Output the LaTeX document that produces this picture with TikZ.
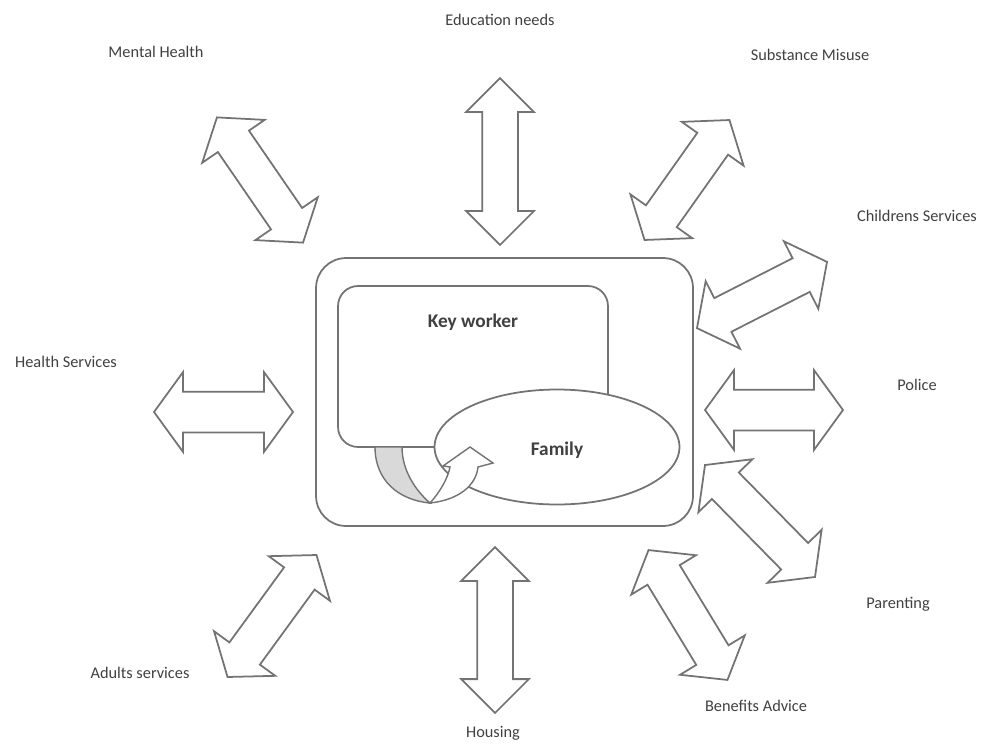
\documentclass[tikz,border=0pt]{standalone}
\usepackage{fontspec}
\setmainfont{Carlito}
\usetikzlibrary{shapes.arrows,shapes.geometric}

\definecolor{linegray}{gray}{0.45}
\definecolor{textgray}{gray}{0.25}

\tikzset{
  link/.style={double arrow, draw=linegray, fill=white, line width=1pt,
    inner xsep=0pt, inner ysep=0.36cm, double arrow head extend=0.38cm,
    double arrow tip angle=105},
  flat/.style={link, inner ysep=0.39cm, double arrow head extend=0.39cm,
    double arrow tip angle=108},
  upright/.style={link, inner ysep=0.34cm, double arrow head extend=0.32cm,
    double arrow tip angle=90},
  service/.style={text=textgray, font=\fontsize{9.3}{11}\selectfont},
  box/.style={draw=linegray, line width=1pt, fill=white, inner sep=0pt},
  inside/.style={text=textgray, font=\fontsize{11}{13}\selectfont\bfseries}
}

\begin{document}
\begin{tikzpicture}[x=0.02cm, y=-0.02cm]
        \useasboundingbox (0,0) rectangle (990,744);

        % Centre boxes
        \node (team) [box, rounded corners=0.6cm, minimum width=7.54cm, minimum height=5.36cm] at (504.5,392) {};
        \node (keyworker) [box, rounded corners=0.4cm, minimum width=5.4cm, minimum height=3.22cm] at (473,366.5) {};
        \node (keytext) [inside] at (473,322) {Key worker};
        \node (family) [box, ellipse, minimum width=4.9cm, minimum height=2.3cm] at (557,447) {};
        \node (familytext) [inside] at (557,450) {Family};

        % Curved arrow from key worker to family
        \draw[draw=linegray, line width=0.8pt, fill=gray!30]
          (375,447) .. controls (375,480) and (398,500) .. (430,503)
          .. controls (415,490) and (402,470) .. (402,447) -- cycle;
        \draw[draw=linegray, line width=0.8pt, fill=white]
          (430,503) .. controls (440,492) and (448,478) .. (450,467)
          -- (443,466) -- (470,447) -- (493,463) -- (478,467)
          .. controls (476,486) and (458,500) .. (430,503) -- cycle;

        % Double arrows
        \node (mental) [link, rotate=-55.5, minimum height=3.04cm] at (260,180) {};
        \node (edu) [upright, rotate=90, minimum height=3.34cm] at (500,161.5) {};
        \node (substance) [link, rotate=54.7, minimum height=2.94cm] at (687,180) {};
        \node (childrens) [link, rotate=27, minimum height=2.92cm] at (762,295) {};
        \node (health) [flat, minimum height=2.78cm] at (223.5,412) {};
        \node (police) [flat, minimum height=2.76cm] at (774,410) {};
        \node (parenting) [link, rotate=-45.5, minimum height=3.14cm] at (760,521) {};
        \node (benefits) [link, rotate=-58.7, minimum height=3.04cm] at (688,615) {};
        \node (housing) [upright, rotate=90, minimum height=3.32cm] at (495,630) {};
        \node (adults) [link, rotate=53.9, minimum height=3.02cm] at (272,616) {};

        % Labels
        \node (mentallbl) [service] at (156,52) {Mental Health};
        \node (edulbl) [service] at (500,20) {Education needs};
        \node (substancelbl) [service] at (810,55) {Substance Misuse};
        \node (childrenslbl) [service] at (917,216) {Childrens Services};
        \node (healthlbl) [service] at (66,362) {Health Services};
        \node (policelbl) [service] at (917,385) {Police};
        \node (parentinglbl) [service] at (898,604) {Parenting};
        \node (adultslbl) [service] at (140,673) {Adults services};
        \node (housinglbl) [service] at (493,733) {Housing};
        \node (benefitslbl) [service] at (756,706) {Benefits Advice};
\end{tikzpicture}
\end{document}
